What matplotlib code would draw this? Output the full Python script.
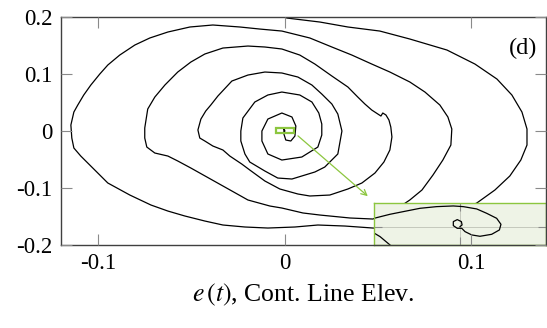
import numpy as np
from matplotlib import pyplot as plt
from matplotlib.patches import Rectangle

plt.rcParams['font.family'] = ['Liberation Serif', 'DejaVu Serif']
plt.rcParams['mathtext.fontset'] = 'stix'
plt.rcParams['axes.unicode_minus'] = False

# phase trajectory: control line elevation e(t) against its rate
e = [0.0, 0.0011, 0.0188, 0.0338, 0.0509, 0.0670, 0.0869, 0.1019, 0.1137, 0.1217,
     0.1271, 0.1298, 0.1298, 0.1265, 0.1206, 0.1126, 0.1029, 0.0885, 0.0724, 0.0590,
     0.0472, 0.0322, 0.0177, 0.0054, -0.0091, -0.0214, -0.0332, -0.0429, -0.0536, -0.0627,
     -0.0718, -0.0831, -0.0949, -0.1019, -0.1094, -0.1131, -0.1142, -0.1147, -0.1131, -0.1110,
     -0.1078, -0.1040, -0.0992, -0.0949, -0.0885, -0.0804, -0.0724, -0.0627, -0.0509, -0.0386,
     -0.0241, -0.0134, -0.0016, 0.0134, 0.0252, 0.0359, 0.0466, 0.0563, 0.0670, 0.0751,
     0.0831, 0.0874, 0.0895, 0.0890, 0.0847, 0.0794, 0.0735, 0.0670, 0.0590, 0.0472,
     0.0349, 0.0188, 0.0097, -0.0016, -0.0080, -0.0198, -0.0332, -0.0429, -0.0504, -0.0574,
     -0.0627, -0.0697, -0.0740, -0.0751, -0.0751, -0.0735, -0.0697, -0.0643, -0.0574, -0.0504,
     -0.0429, -0.0332, -0.0198, -0.0107, -0.0016, 0.0080, 0.0161, 0.0252, 0.0338, 0.0391,
     0.0429, 0.0466, 0.0499, 0.0515, 0.0525, 0.0542, 0.0558, 0.0568, 0.0574, 0.0563,
     0.0531, 0.0483, 0.0413, 0.0338, 0.0241, 0.0134, 0.0070, -0.0027, -0.0107, -0.0188,
     -0.0231, -0.0295, -0.0332, -0.0386, -0.0429, -0.0456, -0.0466, -0.0450, -0.0424, -0.0397,
     -0.0359, -0.0284, -0.0198, -0.0107, -0.0016, 0.0070, 0.0145, 0.0198, 0.0252, 0.0284,
     0.0306, 0.0284, 0.0214, 0.0161, 0.0038, -0.0038, -0.0107, -0.0188, -0.0214, -0.0236,
     -0.0236, -0.0225, -0.0161, -0.0091, -0.0016, 0.0080, 0.0145, 0.0182, 0.0198, 0.0198,
     0.0177, 0.0091, -0.0016, -0.0091, -0.0123, -0.0123, -0.0091, -0.0016, 0.0038, 0.0059,
     0.0054, 0.0032, 0.0005, -0.0005, -0.0005, 0.0]
de = [0.2000, 0.1982, 0.1912, 0.1825, 0.1754, 0.1614, 0.1421, 0.1175, 0.0912, 0.0632,
      0.0333, 0.0035, -0.0246, -0.0509, -0.0789, -0.1035, -0.1263, -0.1474, -0.1632, -0.1719,
      -0.1702, -0.1667, -0.1649, -0.1684, -0.1702, -0.1684, -0.1649, -0.1579, -0.1491, -0.1404,
      -0.1298, -0.1123, -0.0912, -0.0684, -0.0439, -0.0298, -0.0123, 0.0105, 0.0333, 0.0456,
      0.0632, 0.0807, 0.1000, 0.1158, 0.1333, 0.1509, 0.1632, 0.1737, 0.1825, 0.1860,
      0.1825, 0.1789, 0.1754, 0.1632, 0.1474, 0.1333, 0.1175, 0.1035, 0.0860, 0.0684,
      0.0456, 0.0246, 0.0035, -0.0246, -0.0509, -0.0772, -0.1035, -0.1210, -0.1386, -0.1544,
      -0.1526, -0.1474, -0.1438, -0.1351, -0.1316, -0.1210, -0.0965, -0.0789, -0.0649, -0.0526,
      -0.0439, -0.0386, -0.0281, -0.0123, 0.0053, 0.0386, 0.0596, 0.0807, 0.1035, 0.1210,
      0.1351, 0.1456, 0.1491, 0.1474, 0.1439, 0.1333, 0.1175, 0.0965, 0.0772, 0.0596,
      0.0474, 0.0368, 0.0298, 0.0263, 0.0316, 0.0281, 0.0193, 0.0070, -0.0105, -0.0333,
      -0.0544, -0.0737, -0.0912, -0.1017, -0.1123, -0.1140, -0.1105, -0.1017, -0.0877, -0.0684,
      -0.0579, -0.0439, -0.0333, -0.0263, -0.0175, -0.0123, 0.0018, 0.0210, 0.0351, 0.0456,
      0.0614, 0.0877, 0.0982, 0.1035, 0.1018, 0.0947, 0.0807, 0.0649, 0.0474, 0.0298,
      0.0000, -0.0403, -0.0632, -0.0719, -0.0842, -0.0825, -0.0702, -0.0544, -0.0403, -0.0175,
      0.0000, 0.0228, 0.0509, 0.0632, 0.0684, 0.0632, 0.0509, 0.0316, 0.0123, -0.0070,
      -0.0281, -0.0456, -0.0509, -0.0403, -0.0175, 0.0000, 0.0210, 0.0316, 0.0246, 0.0088,
      -0.0088, -0.0175, -0.0158, -0.0053, 0.0053, 0.0]

# zoomed view around the origin
zoom_e = [-0.00500, -0.00407, -0.00330, -0.00233, -0.00136, -0.00039, 0.00019, 0.00097,
          0.00155, 0.00213, 0.00238, 0.00229, 0.00184, 0.00116, 0.00068, 0.00029, 0.00010,
          -0.00016, -0.00039, -0.00039, -0.00016, 0.00008, 0.00012, 0.0]
zoom_de = [0.00206, 0.00302, 0.00365, 0.00444, 0.00484, 0.00500, 0.00484, 0.00429,
           0.00325, 0.00206, 0.00063, -0.00071, -0.00175, -0.00222, -0.00190, -0.00111, -0.00032,
           -0.00032, 0.00032, 0.00127, 0.00175, 0.00127, 0.00048, 0.00008]
zoom_tail_e = [-0.00504, -0.00465, -0.00407, -0.00378]
zoom_tail_de = [-0.00135, -0.00230, -0.00429, -0.00550]

zoom_xlim = (-0.005, 0.005)
zoom_ylim = (-0.0043, 0.0057)

green = '#8cc63f'

fig = plt.figure(figsize=(5.47, 3.28), dpi=100)
ax = fig.add_axes([0.1115, 0.253, 0.8867, 0.6951])
ax.plot(e, de, color='black', lw=0.9, zorder=1)

ax.set_xlim(-0.12, 0.14)
ax.set_ylim(-0.2, 0.2)
ax.set_xticks([-0.1, 0, 0.1])
ax.set_xticklabels(['-0.1', '0', '0.1'])
ax.set_yticks([-0.2, -0.1, 0, 0.1, 0.2])
ax.set_yticklabels(['-0.2', '-0.1', '0', '0.1', '0.2'])
ax.set_axisbelow(False)
ax.tick_params(direction='in', length=8, width=0.8, color='#8a8a8a',
               top=True, right=True, labelsize=16.5, pad=6)
for s in ax.spines.values():
    s.set_color('#404040')
    s.set_linewidth(1.0)
ax.set_xlabel(r'$e\,(t)$, Cont. Line Elev.', fontsize=18.5, labelpad=5)
ax.text(0.981, 0.864, '(d)', transform=ax.transAxes, ha='right', va='center', fontsize=17.5)

# marker box and pointer to the zoomed view
ax.add_patch(Rectangle((zoom_xlim[0], zoom_ylim[0]), zoom_xlim[1] - zoom_xlim[0],
                       zoom_ylim[1] - zoom_ylim[0], fill=False, ec=green, lw=1.6, zorder=3))
ax.annotate('', xy=(0.0456, -0.1175), xytext=(0.0059, -0.0053),
            arrowprops=dict(arrowstyle='->', color=green, lw=0.9), zorder=3)

axins = ax.inset_axes([0.6454, 0.0, 0.3546, 0.1842])
axins.set_zorder(2)
axins.set_facecolor('#eef3e6')
axins.plot(zoom_e, zoom_de, color='black', lw=0.9)
axins.plot(zoom_tail_e, zoom_tail_de, color='black', lw=0.9)
axins.set_xlim(*zoom_xlim)
axins.set_ylim(*zoom_ylim)
axins.set_xticks([0])
axins.set_yticks([0])
axins.tick_params(direction='in', length=6, width=0.8, color='#8a8a8a',
                  top=True, right=True, labelbottom=False, labelleft=False)
axins.grid(True, color='#c4c8bc', lw=0.7)
for s in axins.spines.values():
    s.set_color(green)
    s.set_linewidth(1.0)

fig.savefig('out.png', dpi=100)
